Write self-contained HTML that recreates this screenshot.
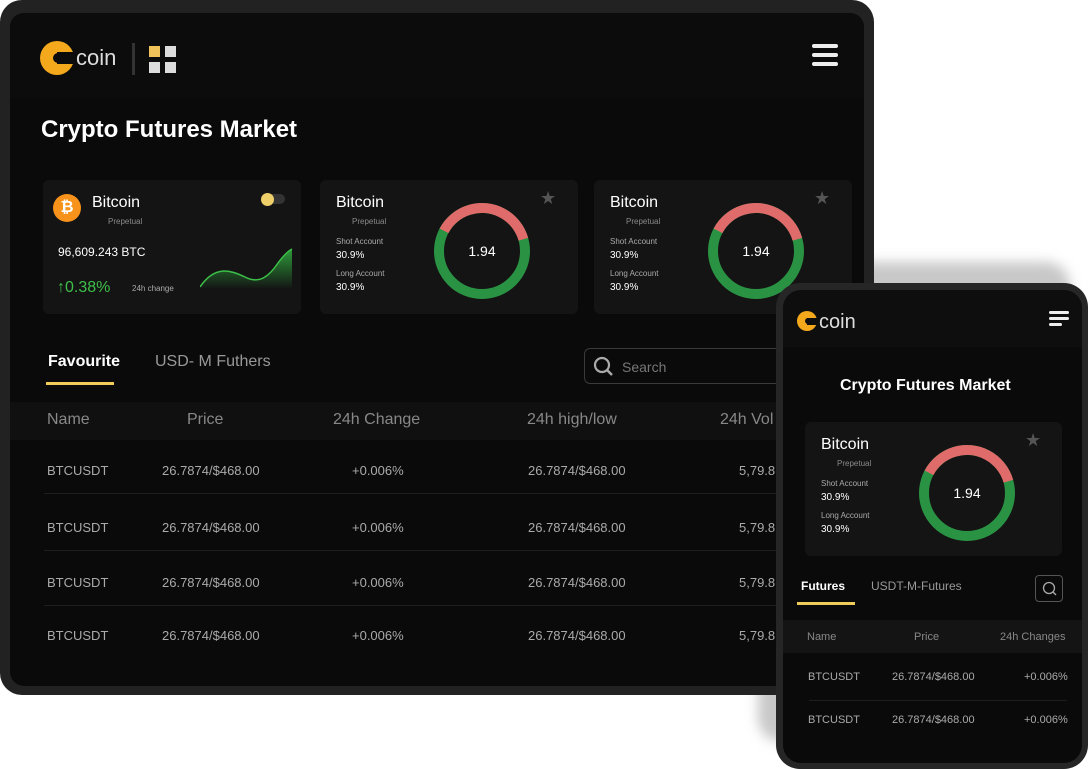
<!DOCTYPE html>
<html><head><meta charset="utf-8">
<style>
*{margin:0;padding:0;box-sizing:border-box}
body{width:1088px;height:769px;background:#fff;position:relative;overflow:hidden;font-family:"Liberation Sans",sans-serif;color:#fff}
.a{position:absolute}
.card{position:absolute;background:#141414;border-radius:6px}
.t{position:absolute;white-space:nowrap}
.g{color:#8a8a8a}
</style></head><body>
<!-- phone shadow -->
<div class="a" style="left:758px;top:262px;width:312px;height:480px;background:#c8c8c8;border-radius:24px;filter:blur(6px)"></div>

<!-- tablet -->
<div class="a" style="left:0;top:0;width:874px;height:695px;background:#222;border-radius:22px"></div>
<div class="a" style="left:10px;top:13px;width:854px;height:673px;background:#0a0a0a;border-radius:14px;overflow:hidden">
  <div class="a" style="left:0;top:0;width:854px;height:85px;background:#0c0c0c"></div>
  <div class="a" style="left:0;top:389px;width:854px;height:38px;background:#101010"></div>
</div>
<!-- logo -->
<svg class="a" style="left:40px;top:41px" width="36" height="36"><circle cx="17" cy="17" r="17" fill="#f4a91c"/><rect x="17" y="11" width="20" height="12" fill="#0c0c0c"/><circle cx="18" cy="17" r="5" fill="#0c0c0c"/></svg>
<div class="t" style="left:76px;top:45px;font-size:22px;color:#ddd">coin</div>
<div class="a" style="left:132px;top:43px;width:3px;height:32px;background:#333"></div>
<div class="a" style="left:149px;top:46px;width:11px;height:11px;background:#efc35a"></div>
<div class="a" style="left:165px;top:46px;width:11px;height:11px;background:#ddd"></div>
<div class="a" style="left:149px;top:62px;width:11px;height:11px;background:#ddd"></div>
<div class="a" style="left:165px;top:62px;width:11px;height:11px;background:#ddd"></div>
<div class="a" style="left:812px;top:44px;width:26px;height:4px;background:#eee;border-radius:2px"></div>
<div class="a" style="left:812px;top:53px;width:26px;height:4px;background:#eee;border-radius:2px"></div>
<div class="a" style="left:812px;top:62px;width:26px;height:4px;background:#eee;border-radius:2px"></div>

<div class="t" style="left:41px;top:116px;font-size:24px;font-weight:bold">Crypto Futures Market</div>

<!-- card 1 -->
<div class="card" style="left:43px;top:180px;width:258px;height:134px"></div>
<div class="a" style="left:53px;top:194px;width:28px;height:28px;border-radius:50%;background:#f7931a;font-size:16px;font-weight:bold;text-align:center;line-height:28px">₿</div>
<div class="t" style="left:92px;top:194px;font-size:16px">Bitcoin</div>
<div class="t g" style="left:108px;top:217px;font-size:8px">Prepetual</div>
<div class="a" style="left:261px;top:194px;width:24px;height:10px;border-radius:5px;background:#333"></div>
<div class="a" style="left:261px;top:193px;width:13px;height:13px;border-radius:50%;background:#efcf6a"></div>
<div class="t" style="left:58px;top:245px;font-size:12px">96,609.243 BTC</div>
<div class="t" style="left:57px;top:279px;font-size:16px;color:#3ebf4a">↑0.38%</div>
<div class="t g" style="left:132px;top:284px;font-size:8px;color:#aaa">24h change</div>
<svg class="a" style="left:200px;top:245px" width="94" height="44"><defs><linearGradient id="gg" x1="0" y1="0" x2="0" y2="1"><stop offset="0" stop-color="#2e9b3a"/><stop offset="1" stop-color="#141414"/></linearGradient></defs><path d="M0 42 C15 20 30 25 45 32 C60 40 70 30 78 18 C84 10 88 6 92 4 L92 44 L0 44Z" fill="url(#gg)"/><path d="M0 42 C15 20 30 25 45 32 C60 40 70 30 78 18 C84 10 88 6 92 4" stroke="#3cbf48" stroke-width="1.5" fill="none"/></svg>

<!-- card 2,3 -->
<div class="card" style="left:320px;top:180px;width:258px;height:134px"></div>
<div class="card" style="left:594px;top:180px;width:258px;height:134px"></div>
<div class="t" style="left:336px;top:194px;font-size:16px">Bitcoin</div>
<div class="t g" style="left:352px;top:217px;font-size:8px">Prepetual</div>
<div class="t g" style="left:336px;top:237px;font-size:8px;color:#aaa">Shot Account</div>
<div class="t" style="left:336px;top:250px;font-size:10px">30.9%</div>
<div class="t g" style="left:336px;top:269px;font-size:8px;color:#aaa">Long Account</div>
<div class="t" style="left:336px;top:282px;font-size:10px">30.9%</div>
<div class="t" style="left:540px;top:188px;font-size:18px;color:#555">★</div>
<div class="t" style="left:610px;top:194px;font-size:16px">Bitcoin</div>
<div class="t g" style="left:626px;top:217px;font-size:8px">Prepetual</div>
<div class="t g" style="left:610px;top:237px;font-size:8px;color:#aaa">Shot Account</div>
<div class="t" style="left:610px;top:250px;font-size:10px">30.9%</div>
<div class="t g" style="left:610px;top:269px;font-size:8px;color:#aaa">Long Account</div>
<div class="t" style="left:610px;top:282px;font-size:10px">30.9%</div>
<div class="t" style="left:814px;top:188px;font-size:18px;color:#555">★</div>
<svg class="a" style="left:432px;top:201px" width="100" height="100"><circle cx="50" cy="50" r="43" fill="none" stroke="#2a9343" stroke-width="10"/><circle cx="50" cy="50" r="43" fill="none" stroke="#e06b6b" stroke-width="10" stroke-dasharray="102 300" transform="rotate(208 50 50)"/><text x="50" y="55" font-size="14" fill="#fff" text-anchor="middle" font-family="Liberation Sans">1.94</text></svg>
<svg class="a" style="left:706px;top:201px" width="100" height="100"><circle cx="50" cy="50" r="43" fill="none" stroke="#2a9343" stroke-width="10"/><circle cx="50" cy="50" r="43" fill="none" stroke="#e06b6b" stroke-width="10" stroke-dasharray="102 300" transform="rotate(208 50 50)"/><text x="50" y="55" font-size="14" fill="#fff" text-anchor="middle" font-family="Liberation Sans">1.94</text></svg>

<!-- tabs -->
<div class="t" style="left:48px;top:353px;font-size:16px;font-weight:bold">Favourite</div>
<div class="a" style="left:46px;top:382px;width:68px;height:3px;background:#f0cc5a"></div>
<div class="t" style="left:155px;top:353px;font-size:16px;color:#999">USD- M Futhers</div>
<div class="a" style="left:584px;top:348px;width:200px;height:36px;border:1px solid #3a3a3a;border-radius:6px"></div>
<svg class="a" style="left:593px;top:356px" width="22" height="22"><circle cx="9" cy="9" r="7" stroke="#aaa" stroke-width="2.2" fill="none"/><line x1="14" y1="14" x2="19" y2="19" stroke="#aaa" stroke-width="2.5"/></svg>
<div class="t" style="left:622px;top:359px;font-size:14px;color:#777">Search</div>

<!-- table -->
<div class="t" style="left:47px;top:411px;font-size:16px;color:#888">Name</div>
<div class="t" style="left:187px;top:411px;font-size:16px;color:#888">Price</div>
<div class="t" style="left:333px;top:411px;font-size:16px;color:#888">24h Change</div>
<div class="t" style="left:527px;top:411px;font-size:16px;color:#888">24h high/low</div>
<div class="t" style="left:720px;top:411px;font-size:16px;color:#888">24h Vol</div>
<div style="position:absolute;left:0;top:0">
<div class="t" style="left:47px;top:463px;font-size:13px;color:#aaa">BTCUSDT</div><div class="t" style="left:162px;top:463px;font-size:13px;color:#aaa">26.7874/$468.00</div><div class="t" style="left:352px;top:463px;font-size:13px;color:#aaa">+0.006%</div><div class="t" style="left:528px;top:463px;font-size:13px;color:#aaa">26.7874/$468.00</div><div class="t" style="left:739px;top:463px;font-size:13px;color:#aaa">5,79.8</div>
<div class="a" style="left:44px;top:493px;width:735px;height:1px;background:#1e1e1e"></div>
<div class="t" style="left:47px;top:520px;font-size:13px;color:#aaa">BTCUSDT</div><div class="t" style="left:162px;top:520px;font-size:13px;color:#aaa">26.7874/$468.00</div><div class="t" style="left:352px;top:520px;font-size:13px;color:#aaa">+0.006%</div><div class="t" style="left:528px;top:520px;font-size:13px;color:#aaa">26.7874/$468.00</div><div class="t" style="left:739px;top:520px;font-size:13px;color:#aaa">5,79.8</div>
<div class="a" style="left:44px;top:550px;width:735px;height:1px;background:#1e1e1e"></div>
<div class="t" style="left:47px;top:575px;font-size:13px;color:#aaa">BTCUSDT</div><div class="t" style="left:162px;top:575px;font-size:13px;color:#aaa">26.7874/$468.00</div><div class="t" style="left:352px;top:575px;font-size:13px;color:#aaa">+0.006%</div><div class="t" style="left:528px;top:575px;font-size:13px;color:#aaa">26.7874/$468.00</div><div class="t" style="left:739px;top:575px;font-size:13px;color:#aaa">5,79.8</div>
<div class="a" style="left:44px;top:605px;width:735px;height:1px;background:#1e1e1e"></div>
<div class="t" style="left:47px;top:628px;font-size:13px;color:#aaa">BTCUSDT</div><div class="t" style="left:162px;top:628px;font-size:13px;color:#aaa">26.7874/$468.00</div><div class="t" style="left:352px;top:628px;font-size:13px;color:#aaa">+0.006%</div><div class="t" style="left:528px;top:628px;font-size:13px;color:#aaa">26.7874/$468.00</div><div class="t" style="left:739px;top:628px;font-size:13px;color:#aaa">5,79.8</div>
</div>

<!-- phone -->
<div class="a" style="left:776px;top:283px;width:312px;height:486px;background:#262626;border-radius:24px"></div>
<div class="a" style="left:783px;top:290px;width:299px;height:473px;background:#0a0a0a;border-radius:18px;overflow:hidden">
  <div class="a" style="left:0;top:0;width:299px;height:57px;background:#0e0e0e"></div>
  <div class="a" style="left:0;top:330px;width:299px;height:33px;background:#141414"></div>
</div>
<svg class="a" style="left:797px;top:311px" width="22" height="22"><circle cx="10" cy="10" r="10" fill="#f4a91c"/><rect x="10" y="7" width="12" height="7" fill="#0e0e0e"/><circle cx="11" cy="10" r="3" fill="#0e0e0e"/></svg>
<div class="t" style="left:819px;top:311px;font-size:20px;color:#ddd">coin</div>
<div class="a" style="left:1049px;top:311px;width:20px;height:3px;background:#eee;border-radius:2px"></div>
<div class="a" style="left:1049px;top:317px;width:20px;height:3px;background:#eee;border-radius:2px"></div>
<div class="a" style="left:1049px;top:323px;width:13px;height:3px;background:#eee;border-radius:2px"></div>
<div class="t" style="left:840px;top:377px;font-size:16px;font-weight:bold">Crypto Futures Market</div>
<div class="card" style="left:805px;top:422px;width:257px;height:134px"></div>
<div class="t" style="left:821px;top:436px;font-size:16px">Bitcoin</div>
<div class="t g" style="left:837px;top:459px;font-size:8px">Prepetual</div>
<div class="t g" style="left:821px;top:479px;font-size:8px;color:#aaa">Shot Account</div>
<div class="t" style="left:821px;top:492px;font-size:10px">30.9%</div>
<div class="t g" style="left:821px;top:511px;font-size:8px;color:#aaa">Long Account</div>
<div class="t" style="left:821px;top:524px;font-size:10px">30.9%</div>
<div class="t" style="left:1025px;top:430px;font-size:18px;color:#555">★</div>
<svg class="a" style="left:917px;top:443px" width="100" height="100"><circle cx="50" cy="50" r="43" fill="none" stroke="#2a9343" stroke-width="10"/><circle cx="50" cy="50" r="43" fill="none" stroke="#e06b6b" stroke-width="10" stroke-dasharray="102 300" transform="rotate(208 50 50)"/><text x="50" y="55" font-size="14" fill="#fff" text-anchor="middle" font-family="Liberation Sans">1.94</text></svg>
<div class="t" style="left:801px;top:579px;font-size:12px;font-weight:bold">Futures</div>
<div class="a" style="left:797px;top:602px;width:58px;height:3px;background:#f0cc5a"></div>
<div class="t" style="left:871px;top:579px;font-size:12px;color:#999">USDT-M-Futures</div>
<div class="a" style="left:1035px;top:575px;width:28px;height:27px;border:1.5px solid #555;border-radius:4px"></div>
<svg class="a" style="left:1041px;top:580px" width="18" height="18"><circle cx="8" cy="8" r="5.5" stroke="#aaa" stroke-width="1.3" fill="none"/><line x1="12" y1="12" x2="15" y2="15" stroke="#aaa" stroke-width="1.3"/></svg>
<div class="t" style="left:807px;top:631px;font-size:11px;color:#888">Name</div>
<div class="t" style="left:914px;top:631px;font-size:11px;color:#888">Price</div>
<div class="t" style="left:1000px;top:631px;font-size:11px;color:#888">24h Changes</div>
<div class="t" style="left:808px;top:671px;font-size:11px;color:#aaa">BTCUSDT</div>
<div class="t" style="left:892px;top:671px;font-size:11px;color:#aaa">26.7874/$468.00</div>
<div class="t" style="left:1024px;top:671px;font-size:11px;color:#aaa">+0.006%</div>
<div class="a" style="left:809px;top:700px;width:258px;height:1px;background:#1e1e1e"></div>
<div class="t" style="left:808px;top:714px;font-size:11px;color:#aaa">BTCUSDT</div>
<div class="t" style="left:892px;top:714px;font-size:11px;color:#aaa">26.7874/$468.00</div>
<div class="t" style="left:1024px;top:714px;font-size:11px;color:#aaa">+0.006%</div>
</body></html>
